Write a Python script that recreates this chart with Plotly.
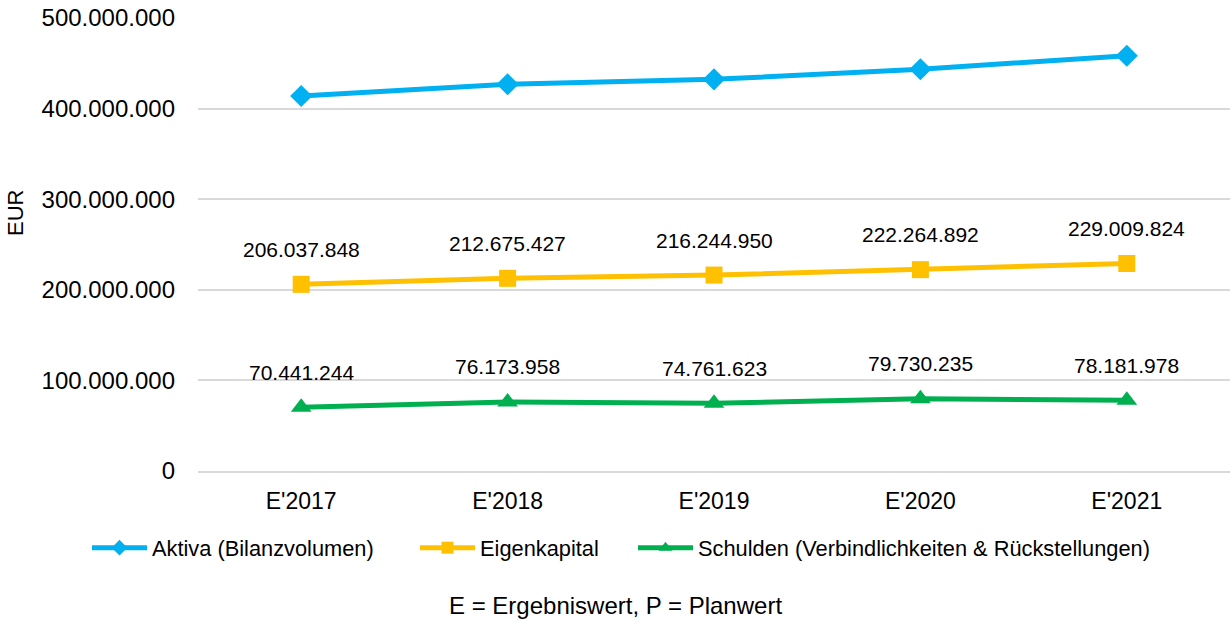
import plotly.graph_objects as go

# Balance sheet figures (EUR)
years = ["E'2017", "E'2018", "E'2019", "E'2020", "E'2021"]
aktiva = [413_900_000, 426_800_000, 432_300_000, 443_400_000, 458_400_000]
eigenkapital = [206_037_848, 212_675_427, 216_244_950, 222_264_892, 229_009_824]
schulden = [70_441_244, 76_173_958, 74_761_623, 79_730_235, 78_181_978]

y_ticks = [0, 100_000_000, 200_000_000, 300_000_000, 400_000_000, 500_000_000]
y_tick_labels = ["0", "100.000.000", "200.000.000", "300.000.000", "400.000.000", "500.000.000"]

FONT = "Liberation Sans, Arial, sans-serif"
BLUE = "#00B0F0"
GOLD = "#FFC000"
GREEN = "#00B050"
GRID = "#d9d9d9"
W, H = 1231, 620


def de_format(v):
    return f"{v:,}".replace(",", ".")


fig = go.Figure()
fig.add_trace(go.Scatter(
    x=years, y=aktiva, name="Aktiva (Bilanzvolumen)", mode="lines+markers",
    line=dict(color=BLUE, width=5),
    marker=dict(symbol="diamond", size=17, color=BLUE),
    legend="legend",
))
fig.add_trace(go.Scatter(
    x=years, y=eigenkapital, name="Eigenkapital", mode="lines+markers",
    line=dict(color=GOLD, width=5),
    marker=dict(symbol="square", size=17, color=GOLD),
    legend="legend2",
))
fig.add_trace(go.Scatter(
    x=years, y=schulden, name="Schulden (Verbindlichkeiten & Rückstellungen)", mode="lines+markers",
    line=dict(color=GREEN, width=5),
    marker=dict(symbol="triangle-up", size=18, color=GREEN),
    legend="legend3",
))

annotations = []
for series in (eigenkapital, schulden):
    for x, v in zip(years, series):
        annotations.append(dict(
            x=x, y=v, xref="x", yref="y", text=de_format(v), showarrow=False,
            yshift=35, font=dict(family=FONT, size=21, color="#000000"),
        ))
# footnote below the legend
annotations.append(dict(
    x=0.405, y=-0.296, xref="paper", yref="paper", yanchor="middle",
    text="E = Ergebniswert, P = Planwert", showarrow=False,
    font=dict(family=FONT, size=24, color="#000000"),
))
# value axis title
annotations.append(dict(
    x=-0.1773, y=0.5695, xref="paper", yref="paper", xanchor="center", yanchor="middle",
    text="EUR", textangle=-90, showarrow=False,
    font=dict(family=FONT, size=22, color="#000000"),
))


def legend_at(px):
    # one horizontal legend row entry, left edge given in pixels
    return dict(
        orientation="h", x=px / W, xanchor="left", xref="container",
        y=1 - 548 / H, yanchor="middle", yref="container",
        font=dict(family=FONT, size=21.8, color="#000000"),
        itemwidth=55, itemsizing="constant", bgcolor="rgba(0,0,0,0)",
    )


fig.update_layout(
    width=W, height=H,
    margin=dict(l=198, r=1, t=18, b=149),
    paper_bgcolor="white", plot_bgcolor="white",
    font=dict(family=FONT, size=21, color="#000000"),
    showlegend=True,
    legend=legend_at(87),
    legend2=legend_at(415),
    legend3=legend_at(633),
    annotations=annotations,
)

fig.update_xaxes(
    type="category", range=[-0.5, 4.5], showgrid=False,
    showline=True, linecolor=GRID, linewidth=1.5,
    ticks="", tickfont=dict(family=FONT, size=23, color="#000000"),
    ticklabelstandoff=9,
)
fig.update_yaxes(
    range=[0, 500_000_000], tickvals=y_ticks, ticktext=y_tick_labels,
    showgrid=True, gridcolor=GRID, gridwidth=1.5, zeroline=False,
    ticks="", tickfont=dict(family=FONT, size=24, color="#000000"),
    ticklabelstandoff=22,
)

fig.write_html("out.html")
